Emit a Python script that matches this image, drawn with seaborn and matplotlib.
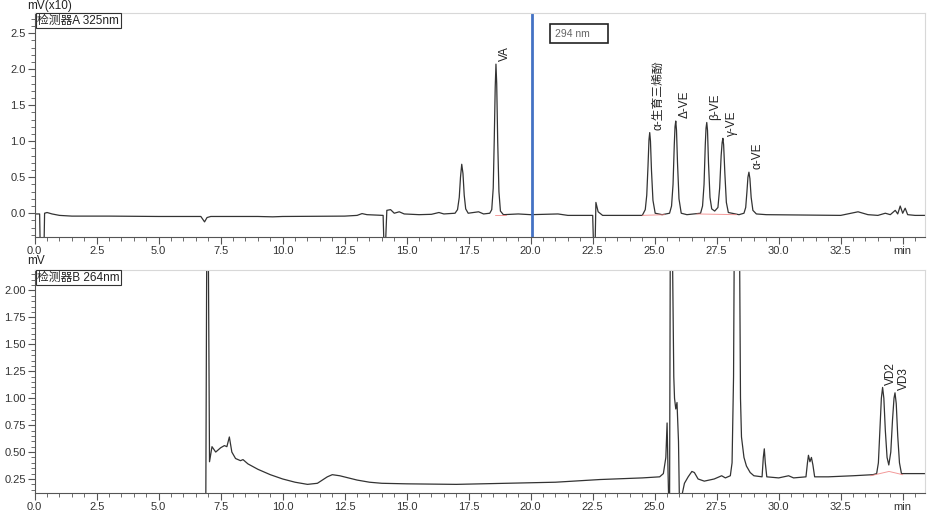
import matplotlib
matplotlib.use("Agg")
import matplotlib.pyplot as plt
import numpy as np
import pandas as pd
import seaborn as sns
from matplotlib.ticker import MultipleLocator, FixedLocator

# ---- detector A (325 nm), mV(x10) ----
time_a = [0.0, 0.2, 0.22, 0.38, 0.4, 0.5, 0.7, 1.0, 1.5, 3.0, 5.0, 6.7, 6.85, 6.95, 7.1,
          9.0, 9.6, 10.0, 12.5, 13.0, 13.2, 13.4, 14.05, 14.08, 14.15, 14.2, 14.35, 14.5,
          14.7, 14.9, 15.5, 16.0, 16.3, 16.5, 16.95,
          17.05, 17.12, 17.17, 17.22, 17.27, 17.32, 17.38, 17.48,
          17.9, 18.1, 18.35,
          18.43, 18.49, 18.53, 18.57, 18.6, 18.63, 18.67, 18.72, 18.78, 18.9,
          19.5, 20.0, 21.1, 21.5, 22.5, 22.53, 22.6, 22.63, 22.72, 22.9, 24.5,
          24.62, 24.68, 24.73, 24.77, 24.8, 24.83, 24.87, 24.93, 25.02,
          25.3, 25.6,
          25.68, 25.74, 25.79, 25.82, 25.85, 25.88, 25.92, 25.98, 26.07,
          26.3, 26.85,
          26.93, 26.99, 27.04, 27.07, 27.1, 27.13, 27.17, 27.23, 27.3, 27.42,
          27.55, 27.62, 27.68, 27.72, 27.75, 27.78, 27.83, 27.89, 27.97,
          28.4, 28.6,
          28.67, 28.72, 28.76, 28.8, 28.84, 28.89, 28.96, 29.1,
          29.5, 32.5, 33.2, 33.6, 34.0,
          34.3, 34.5, 34.7, 34.8, 34.9, 35.0, 35.1, 35.2, 35.5, 35.9]
signal_a = [-0.01, -0.01, -0.4, -0.4, 0.0, 0.01, -0.01, -0.03, -0.04, -0.04, -0.045, -0.045,
            -0.12, -0.06, -0.045, -0.045, -0.05, -0.045, -0.04, -0.03, -0.005, -0.02, -0.03,
            -0.4, -0.4, 0.04, 0.05, 0.0, 0.02, -0.01, -0.02, -0.015, 0.01, -0.01, 0.0,
            0.05, 0.22, 0.5, 0.68, 0.55, 0.25, 0.06, 0.0,
            0.02, -0.01, 0.0,
            0.05, 0.35, 1.0, 1.75, 2.07, 1.8, 1.0, 0.3, 0.03, -0.02,
            -0.01, -0.02, -0.01, -0.03, -0.03, -0.4, -0.4, 0.15, 0.02, -0.03, -0.03,
            0.05, 0.25, 0.65, 1.02, 1.12, 1.0, 0.6, 0.18, 0.0,
            -0.02, 0.0,
            0.1, 0.4, 0.95, 1.2, 1.28, 1.15, 0.7, 0.2, 0.0,
            -0.02, 0.0,
            0.1, 0.4, 0.95, 1.18, 1.26, 1.15, 0.7, 0.22, 0.06, 0.03,
            0.08, 0.35, 0.8, 0.98, 1.04, 0.95, 0.55, 0.15, 0.01,
            -0.02, 0.0,
            0.08, 0.3, 0.5, 0.57, 0.48, 0.22, 0.04, -0.01,
            -0.02, -0.03, 0.02, -0.02, -0.03,
            0.0, -0.02, 0.04, -0.01, 0.1, 0.0, 0.07, -0.02, -0.03, -0.03]

peaks_a_name = ["VA", "α-生育三烯酚", "Δ-VE", "β-VE", "γ-VE", "α-VE"]
peaks_a_time = [18.6, 24.8, 25.85, 27.1, 27.75, 28.8]
peaks_a_height = [2.07, 1.12, 1.28, 1.26, 1.04, 0.57]

# ---- detector B (264 nm), mV ----
time_b = [6.9, 6.94, 7.0, 7.05, 7.15, 7.3, 7.5, 7.65, 7.75, 7.85, 7.95, 8.1, 8.3, 8.4, 8.6,
          9.0, 9.5, 10.0, 10.5, 11.0, 11.4, 11.8, 12.0, 12.3, 13.0, 13.5, 14.0, 15.0, 17.0,
          19.0, 21.0, 22.8, 24.5, 25.2, 25.35, 25.45, 25.5, 25.54, 25.57, 25.6, 25.63, 25.71,
          25.77, 25.8, 25.85, 25.9, 25.96, 26.0, 26.05, 26.1, 26.2, 26.35, 26.5, 26.6, 26.75,
          27.0, 27.4, 27.7, 27.85, 28.05, 28.12, 28.18, 28.21, 28.42, 28.46, 28.5, 28.6, 28.7,
          28.85, 29.0, 29.33, 29.38, 29.42, 29.46, 29.52, 30.0, 30.4, 30.6, 31.1, 31.16,
          31.2, 31.26, 31.32, 31.38, 31.45, 32.0, 33.0, 33.8, 33.95, 34.02, 34.08, 34.14,
          34.19, 34.24, 34.3, 34.37, 34.44, 34.52, 34.59, 34.65, 34.69, 34.74, 34.8, 34.87,
          34.95, 35.9]
signal_b = [0.0, 2.5, 2.5, 0.41, 0.55, 0.5, 0.54, 0.56, 0.55, 0.64, 0.5, 0.44, 0.42, 0.43,
            0.39, 0.34, 0.29, 0.25, 0.22, 0.2, 0.21, 0.27, 0.29, 0.28, 0.24, 0.22, 0.21, 0.205,
            0.2, 0.21, 0.22, 0.245, 0.26, 0.27, 0.3, 0.45, 0.77, 0.3, 0.0, 0.0, 2.5, 2.5,
            1.2, 1.0, 0.9, 0.96, 0.6, 0.0, 0.0, 0.1, 0.21, 0.27, 0.32, 0.31, 0.25,
            0.23, 0.25, 0.28, 0.26, 0.28, 0.4, 1.2, 2.5, 2.5, 1.0, 0.64, 0.45, 0.37,
            0.31, 0.28, 0.27, 0.45, 0.53, 0.4, 0.27, 0.26, 0.28, 0.26, 0.27, 0.4,
            0.47, 0.41, 0.45, 0.38, 0.27, 0.27, 0.28, 0.29, 0.3, 0.4, 0.7, 1.0,
            1.1, 1.0, 0.7, 0.45, 0.38, 0.5, 0.8, 1.0, 1.05, 0.95, 0.65, 0.4,
            0.3, 0.3]

peaks_b_name = ["VD2", "VD3"]
peaks_b_time = [34.19, 34.69]
peaks_b_height = [1.1, 1.05]

# integration baselines (red)
base_a = [([18.55, 19.0], [-0.02, -0.02]), ([24.5, 25.4], [-0.03, -0.02]),
          ([26.7, 28.3], [-0.01, -0.02])]
base_b = [([33.7, 34.45, 35.0], [0.28, 0.32, 0.29])]

x_ticks = [0.0, 2.5, 5.0, 7.5, 10.0, 12.5, 15.0, 17.5, 20.0, 22.5, 25.0, 27.5, 30.0, 32.5, 35.0]
x_labels = ["0.0", "2.5", "5.0", "7.5", "10.0", "12.5", "15.0", "17.5", "20.0", "22.5",
            "25.0", "27.5", "30.0", "32.5", "min"]

sns.set_style("white")
plt.rcParams["font.family"] = ["Liberation Sans", "Noto Sans CJK SC", "DejaVu Sans"]

fig = plt.figure(figsize=(9.32, 5.16), dpi=100)
ax_a = fig.add_axes([0.0372, 0.5407, 0.9553, 0.4341])
ax_b = fig.add_axes([0.0372, 0.0446, 0.9553, 0.4321])

line_col = "#333333"


def style_axis(ax, ylo, yhi, major, minor, fmt):
    ax.set_xlim(0, 35.9)
    ax.set_ylim(ylo, yhi)
    ax.xaxis.set_major_locator(FixedLocator(x_ticks))
    ax.set_xticklabels(x_labels)
    ax.xaxis.set_minor_locator(MultipleLocator(0.5))
    ax.yaxis.set_major_locator(MultipleLocator(major))
    ax.yaxis.set_minor_locator(MultipleLocator(minor))
    ax.yaxis.set_major_formatter(plt.FormatStrFormatter(fmt))
    for s in ["top", "right"]:
        ax.spines[s].set_color("#d8d8d8")
        ax.spines[s].set_linewidth(0.8)
    for s in ["left", "bottom"]:
        ax.spines[s].set_color("#555555")
        ax.spines[s].set_linewidth(0.8)
    ax.tick_params(axis="both", which="major", direction="out", length=5, width=0.8,
                   color="#555555", labelsize=8, labelcolor="#333333", pad=1.5)
    ax.tick_params(axis="both", which="minor", direction="out", length=3, width=0.6,
                   color="#555555")
    ax.tick_params(bottom=True, left=True, which="both")
    ax.set_xlabel("")
    ax.set_ylabel("")


# top chromatogram
sns.lineplot(x=time_a, y=signal_a, ax=ax_a, color=line_col, linewidth=0.9, estimator=None)
for xs, ys in base_a:
    ax_a.plot(xs, ys, color="#f08080", linewidth=0.7, alpha=0.8)
ax_a.axvline(20.04, color="#4472c4", linewidth=2)
for name, t, h in zip(peaks_a_name, peaks_a_time, peaks_a_height):
    ax_a.annotate(name, (t, h), xytext=(2, 2), textcoords="offset points", rotation=90,
                  ha="left", va="bottom", fontsize=8.5, color="#222222")
style_axis(ax_a, -0.33, 2.78, 0.5, 0.1, "%.1f")
ax_a.text(0.003, 0.993, "检测器A 325nm", transform=ax_a.transAxes, ha="left", va="top",
          fontsize=8.5, color="#222222",
          bbox=dict(boxstyle="square,pad=0.12", fc="white", ec="#333333", lw=0.8))
ax_a.text(0.584, 0.908, "294 nm     ", transform=ax_a.transAxes, ha="left", va="center",
          fontsize=7.5, color="#666666",
          bbox=dict(boxstyle="square,pad=0.4", fc="white", ec="#222222", lw=1.2))
fig.text(0.029, 0.976, "mV(x10)", ha="left", va="bottom", fontsize=8.5, color="#222222")

# bottom chromatogram
sns.lineplot(x=time_b, y=signal_b, ax=ax_b, color=line_col, linewidth=0.9, estimator=None)
for xs, ys in base_b:
    ax_b.plot(xs, ys, color="#f08080", linewidth=0.7, alpha=0.8)
for name, t, h in zip(peaks_b_name, peaks_b_time, peaks_b_height):
    ax_b.annotate(name, (t, h), xytext=(2, 2), textcoords="offset points", rotation=90,
                  ha="left", va="bottom", fontsize=8.5, color="#222222")
style_axis(ax_b, 0.12, 2.19, 0.25, 0.05, "%.2f")
ax_b.text(0.003, 0.993, "检测器B 264nm", transform=ax_b.transAxes, ha="left", va="top",
          fontsize=8.5, color="#222222",
          bbox=dict(boxstyle="square,pad=0.12", fc="white", ec="#333333", lw=0.8))
fig.text(0.029, 0.482, "mV", ha="left", va="bottom", fontsize=8.5, color="#222222")

fig.savefig("out.png", dpi=100)
